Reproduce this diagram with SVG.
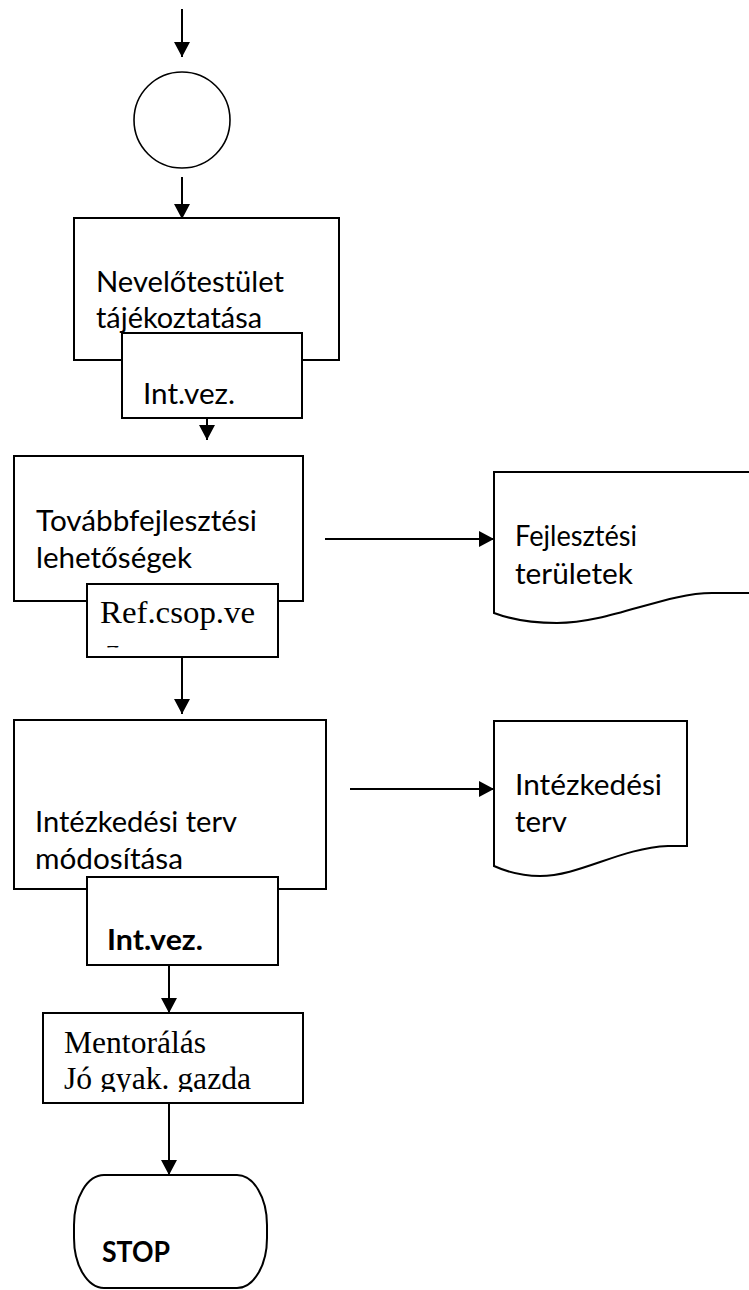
<svg xmlns="http://www.w3.org/2000/svg" width="749" height="1290" viewBox="0 0 749 1290">
<style>
.sh{fill:#fff;stroke:#000;stroke-width:2}
.cn{stroke:#000;stroke-width:2;fill:none}
.t{font-family:Lato,"Open Sans",sans-serif;font-size:28.5px;fill:#000}
.b{font-family:Lato,"Open Sans",sans-serif;font-size:28.5px;font-weight:bold;fill:#000}
.s{font-family:"Liberation Serif","Times New Roman",serif;font-size:32px;fill:#000}
</style>
<defs>
<marker id="ah" viewBox="0 0 15 16" refX="15" refY="8" markerWidth="15" markerHeight="16" markerUnits="userSpaceOnUse" orient="auto">
<path d="M0,0 L15,8 L0,16 z" fill="#000"/>
</marker>
<clipPath id="clipRef"><rect x="87" y="600" width="191" height="47.6"/></clipPath>
<clipPath id="clipMent"><rect x="43" y="1013" width="260" height="79"/></clipPath>
</defs>

<g id="start">
<circle cx="182" cy="120" r="48" fill="#fff" stroke="#000" stroke-width="1.6"/>
</g>

<g id="node1">
<rect class="sh" x="74" y="218" width="265" height="142"/>
<text class="t" x="96" y="292" textLength="188" lengthAdjust="spacingAndGlyphs">Nevelőtestület</text>
<text class="t" x="96" y="328" textLength="166" lengthAdjust="spacingAndGlyphs">tájékoztatása</text>
</g>
<g id="node1r">
<rect class="sh" x="122" y="333" width="180" height="85"/>
<text class="t" x="143" y="404" textLength="92" lengthAdjust="spacingAndGlyphs">Int.vez.</text>
</g>

<g id="node2">
<rect class="sh" x="14" y="456" width="289" height="145"/>
<text class="t" x="36" y="531" textLength="221" lengthAdjust="spacingAndGlyphs">Továbbfejlesztési</text>
<text class="t" x="36" y="568" textLength="156" lengthAdjust="spacingAndGlyphs">lehetőségek</text>
</g>
<g id="node2r">
<rect class="sh" x="87" y="584" width="191" height="73"/>
<text class="s" x="100" y="623" textLength="155" lengthAdjust="spacingAndGlyphs">Ref.csop.ve</text>
<text class="s" x="106" y="661" clip-path="url(#clipRef)">z.</text>
</g>

<g id="doc1">
<path class="sh" d="M494,472 H770 V593 H712 C665,593 610,623 557,623 C530,623 510,619 494,613 Z"/>
<text class="t" x="515" y="546" textLength="122" lengthAdjust="spacingAndGlyphs">Fejlesztési</text>
<text class="t" x="515" y="584" textLength="118" lengthAdjust="spacingAndGlyphs">területek</text>
</g>

<g id="node3">
<rect class="sh" x="14" y="720" width="312" height="169"/>
<text class="t" x="35" y="832" textLength="202" lengthAdjust="spacingAndGlyphs">Intézkedési terv</text>
<text class="t" x="35" y="869" textLength="148" lengthAdjust="spacingAndGlyphs">módosítása</text>
</g>
<g id="node3r">
<rect class="sh" x="87" y="877" width="191" height="88"/>
<text class="b" x="107" y="950" textLength="96" lengthAdjust="spacingAndGlyphs">Int.vez.</text>
</g>

<g id="doc2">
<path class="sh" d="M494,721 H687 V846 H668 C620,848 580,876 540,876 C520,876 505,871 494,866 Z"/>
<text class="t" x="515" y="795" textLength="147" lengthAdjust="spacingAndGlyphs">Intézkedési</text>
<text class="t" x="515" y="832" textLength="52" lengthAdjust="spacingAndGlyphs">terv</text>
</g>

<g id="node4">
<rect class="sh" x="43" y="1013" width="260" height="90"/>
<g clip-path="url(#clipMent)">
<text class="s" x="64" y="1053" textLength="142" lengthAdjust="spacingAndGlyphs">Mentorálás</text>
<text class="s" x="64" y="1089" textLength="187" lengthAdjust="spacingAndGlyphs">Jó gyak. gazda</text>
</g>
</g>

<g id="stop">
<rect class="sh" x="74" y="1175" width="193" height="113" rx="30" ry="50"/>
<text class="b" x="102" y="1262" textLength="68" lengthAdjust="spacingAndGlyphs">STOP</text>
</g>

<g id="connectors">
<line class="cn" x1="182" y1="9" x2="182" y2="57" marker-end="url(#ah)"/>
<line class="cn" x1="182" y1="177" x2="182" y2="219" marker-end="url(#ah)"/>
<line class="cn" x1="207" y1="418" x2="207" y2="440" marker-end="url(#ah)"/>
<line class="cn" x1="182" y1="657" x2="182" y2="714" marker-end="url(#ah)"/>
<line class="cn" x1="325" y1="539" x2="494" y2="539" marker-end="url(#ah)"/>
<line class="cn" x1="350" y1="789" x2="494" y2="789" marker-end="url(#ah)"/>
<line class="cn" x1="169" y1="965" x2="169" y2="1013" marker-end="url(#ah)"/>
<line class="cn" x1="169" y1="1103" x2="169" y2="1175" marker-end="url(#ah)"/>
</g>
</svg>
